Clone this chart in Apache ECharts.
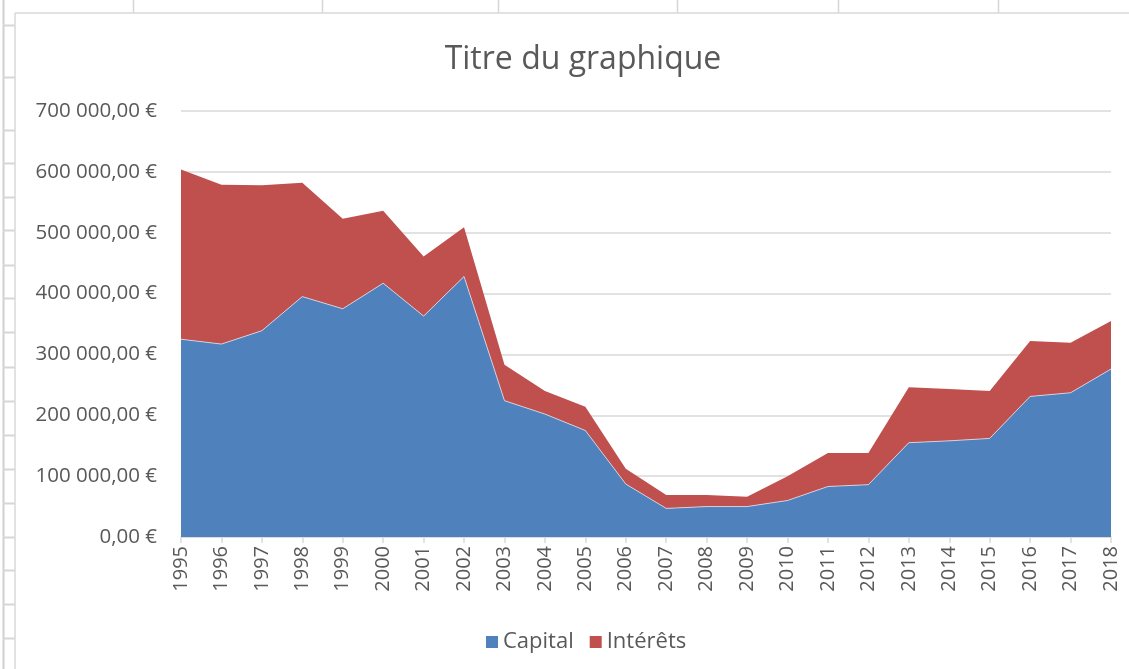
<!DOCTYPE html>
<html>
<head>
<meta charset="utf-8">
<script src="https://cdn.jsdelivr.net/npm/echarts@6/dist/echarts.min.js"></script>
<style>
html,body{margin:0;padding:0;background:#fff;}
#chart{width:1129px;height:669px;}
</style>
</head>
<body>
<div id="chart"></div>
<script>
var years = ['1995','1996','1997','1998','1999','2000','2001','2002','2003','2004','2005','2006','2007','2008','2009','2010','2011','2012','2013','2014','2015','2016','2017','2018'];
var capital = [325000,317000,339000,395000,375000,417000,363000,428000,224000,202000,175000,87000,47000,50000,50000,60000,83000,86000,155000,158000,162000,231000,237000,276000];
var interets = [279000,262000,239000,187000,148000,119000,98000,81000,59000,38000,39000,25000,22000,19000,16000,40000,55000,52000,91000,85000,78000,91000,82000,79000];
var seriesNames = ['Capital','Intérêts'];
var chartTitle = 'Titre du graphique';

var FONT = '"Open Sans", "Noto Sans", sans-serif';
var TXT = '#595959';

function fmtEuro(v){
  var s = Math.round(v).toString();
  var out = '';
  while (s.length > 3){ out = ' ' + s.slice(-3) + out; s = s.slice(0, -3); }
  return s + out + ',00 €';
}

// spreadsheet frame decorations
var gridColor = '#D6D6D6';
var gfx = [];
function line(x1,y1,x2,y2,c,w){
  gfx.push({type:'line', silent:true, z:-10, shape:{x1:x1,y1:y1,x2:x2,y2:y2}, style:{stroke:c||gridColor, lineWidth:w||1}});
}
line(3.5,0,3.5,669,'#D0D0D0',2);
[25,77,130,163,197,230,265,298,332,367,401,435,469,503,537,570,604,638].forEach(function(y){ line(3,y+0.5,15,y+0.5,'#D6D6D6',2); });
[133,322,498,677,838,998].forEach(function(x){ line(x+0.5,0,x+0.5,13,'#D6D6D6',1.5); });
line(15,13,1129,13,'#D9D9D9',1.5);
line(15,13,15,669,'#D9D9D9',1.5);

var chart = echarts.init(document.getElementById('chart'), null, {renderer:'canvas'});
chart.setOption({
  backgroundColor:'#fff',
  animation:false,
  graphic: gfx,
  title:{
    text: chartTitle,
    left: 578,
    textAlign: 'center',
    top: 39,
    textStyle:{fontFamily:FONT, fontSize:32, fontWeight:'normal', color:TXT}
  },
  legend:{
    bottom: 11,
    left: 481,
    itemWidth: 12,
    itemHeight: 12,
    itemGap: 16,
    icon: 'rect',
    textStyle:{fontFamily:FONT, fontSize:22, color:TXT},
    data: seriesNames
  },
  grid:{left:181, right:18, top:111, bottom:132, containLabel:false},
  xAxis:{
    type:'category',
    data: years,
    boundaryGap:false,
    axisLine:{lineStyle:{color:'#D9D9D9', width:1.5}},
    axisTick:{show:true, length:6, lineStyle:{color:'#D9D9D9', width:1.5}},
    axisLabel:{rotate:90, interval:0, margin:9, fontFamily:FONT, fontSize:20, color:TXT},
    splitLine:{show:false}
  },
  yAxis:{
    type:'value',
    min:0, max:700000, interval:100000,
    axisLine:{show:false},
    axisTick:{show:false},
    axisLabel:{formatter: fmtEuro, margin:24, fontFamily:FONT, fontSize:20.5, color:TXT},
    splitLine:{lineStyle:{color:'#D9D9D9', width:1.5}}
  },
  series:[
    {
      name: seriesNames[0], type:'line', stack:'total', data: capital,
      symbol:'none', smooth:false,
      lineStyle:{width:1, color:'rgba(220,225,240,0.8)'},
      itemStyle:{color:'#4F81BD'},
      areaStyle:{color:'#4F81BD', opacity:1}
    },
    {
      name: seriesNames[1], type:'line', stack:'total', data: interets,
      symbol:'none', smooth:false,
      lineStyle:{width:0},
      itemStyle:{color:'#C0504D'},
      areaStyle:{color:'#C0504D', opacity:1}
    }
  ]
});
</script>
</body>
</html>
